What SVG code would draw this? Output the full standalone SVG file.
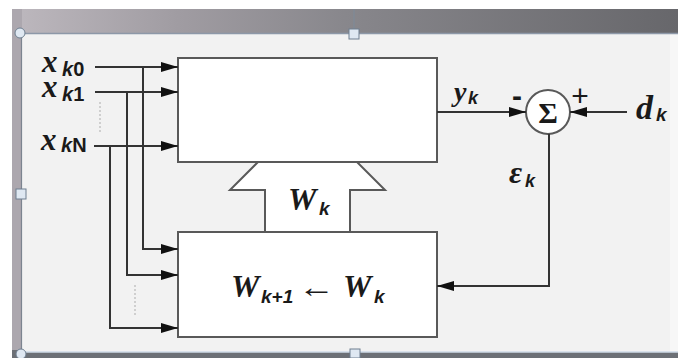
<svg xmlns="http://www.w3.org/2000/svg" width="678" height="358" viewBox="0 0 678 358">
<defs>
<linearGradient id="topband" x1="0" y1="0" x2="1" y2="0">
<stop offset="0" stop-color="#bdb8be"/>
<stop offset="0.25" stop-color="#a09ca2"/>
<stop offset="0.5" stop-color="#88878c"/>
<stop offset="1" stop-color="#67676b"/>
</linearGradient>
<marker id="ah" markerUnits="userSpaceOnUse" markerWidth="18" markerHeight="12" refX="17" refY="5" orient="auto">
<path d="M0,0 L17,5 L0,10 z" fill="#111"/>
</marker>
<style>
.box{fill:#ffffff;stroke:#595959;stroke-width:2}
.ln{fill:none;stroke:#333333;stroke-width:2}
.dot{fill:none;stroke:#b8b8b8;stroke-width:1.2;stroke-dasharray:2 2}
.v{font-family:"Liberation Serif",serif;font-weight:bold;font-style:italic;fill:#1a1a1a}
.s{font-family:"Liberation Sans",sans-serif;font-weight:bold;font-style:italic;fill:#1a1a1a}
.handle{fill:#dfe8f2;stroke:#6f7f90;stroke-width:1}
</style>
</defs>
<!-- screenshot background -->
<rect x="0" y="0" width="678" height="358" fill="#ffffff"/>
<rect x="12" y="9" width="666" height="25" fill="url(#topband)"/>
<rect x="12" y="9" width="10" height="349" fill="#aca7ae"/>
<rect x="12" y="350" width="666" height="8" fill="#6c7076"/>
<rect x="22" y="34" width="656" height="318" fill="#f2f2f2"/>
<rect x="670" y="34" width="8" height="318" fill="#f7f7f7"/>
<line x1="22" y1="33.5" x2="678" y2="33.5" stroke="#8d98a8" stroke-width="1.5"/>
<line x1="21.5" y1="33" x2="21.5" y2="354" stroke="#7c8490" stroke-width="1.2"/>
<line x1="22" y1="352" x2="678" y2="352" stroke="#cfdbe8" stroke-width="1.5"/>
<line x1="354" y1="9" x2="354" y2="30" stroke="#7f8a98" stroke-width="1.2"/>
<circle cx="20" cy="33" r="5" class="handle"/>
<circle cx="21" cy="354" r="5" class="handle"/>
<rect x="349" y="29" width="10" height="10" class="handle"/>
<rect x="16" y="189" width="10" height="10" class="handle"/>
<rect x="350" y="349" width="10" height="9" class="handle"/>

<!-- W_k broad arrow -->
<g id="wk-arrow">
<path d="M258,162 L230,190 L265,190 L265,232 L350,232 L350,190 L385,190 L357,162 Z" fill="#ffffff" stroke="#595959" stroke-width="2"/>
<text class="v" x="288" y="210" font-size="32">W</text>
<text class="s" x="319" y="215" font-size="19">k</text>
</g>

<g id="filter">
<rect class="box" x="178" y="58" width="259" height="104"/>
</g>

<g id="update">
<rect class="box" x="178" y="232" width="259" height="105"/>
<text class="v" x="231" y="297" font-size="32">W</text>
<text class="s" x="261" y="303" font-size="19">k+1</text>
<text x="298" y="297" font-size="30" font-family="Liberation Sans, sans-serif" fill="#1a1a1a" textLength="37" lengthAdjust="spacingAndGlyphs">←</text>
<text class="v" x="343" y="297" font-size="32">W</text>
<text class="s" x="374" y="303" font-size="19">k</text>
</g>

<g id="sum">
<circle cx="548" cy="112" r="22" fill="#ffffff" stroke="#595959" stroke-width="2"/>
<text x="548" y="123" font-size="30" font-weight="bold" font-family="Liberation Serif, serif" text-anchor="middle" fill="#1a1a1a">Σ</text>
<text x="517" y="106" font-size="30" font-weight="bold" font-family="Liberation Sans, sans-serif" text-anchor="middle" fill="#1a1a1a">-</text>
<text x="580" y="106" font-size="30" font-family="Liberation Sans, sans-serif" text-anchor="middle" fill="#1a1a1a">+</text>
</g>

<g id="labels">
<text class="v" x="42" y="72" font-size="31">x</text>
<text class="s" x="62" y="76" font-size="20">k<tspan font-style="normal">0</tspan></text>
<text class="v" x="42" y="97" font-size="31">x</text>
<text class="s" x="62" y="101" font-size="20">k<tspan font-style="normal">1</tspan></text>
<text class="v" x="41" y="150" font-size="31">x</text>
<text class="s" x="61" y="152" font-size="20">k<tspan font-style="normal">N</tspan></text>
<text class="v" x="454" y="101" font-size="28">y</text>
<text class="s" x="468" y="104" font-size="18">k</text>
<text class="v" x="636" y="119" font-size="34">d</text>
<text class="s" x="656" y="121" font-size="19">k</text>
<text class="v" x="509" y="183" font-size="32">ε</text>
<text class="s" x="525" y="187" font-size="18">k</text>
</g>

<g id="connectors">
<path class="ln" d="M95,67 H178" marker-end="url(#ah)"/>
<path class="ln" d="M95,92 H178" marker-end="url(#ah)"/>
<path class="ln" d="M94,146 H178" marker-end="url(#ah)"/>
<path class="ln" d="M143,67 V249 H178" marker-end="url(#ah)"/>
<path class="ln" d="M127,92 V275 H178" marker-end="url(#ah)"/>
<path class="ln" d="M110,146 V328 H178" marker-end="url(#ah)"/>
<path class="ln" d="M437,112 H526" marker-end="url(#ah)"/>
<path class="ln" d="M627,112 H570" marker-end="url(#ah)"/>
<path class="ln" d="M549,134 V286 H437" marker-end="url(#ah)"/>
<path class="dot" d="M100,102 V133"/>
<path class="dot" d="M135,285 V315"/>
</g>
</svg>
